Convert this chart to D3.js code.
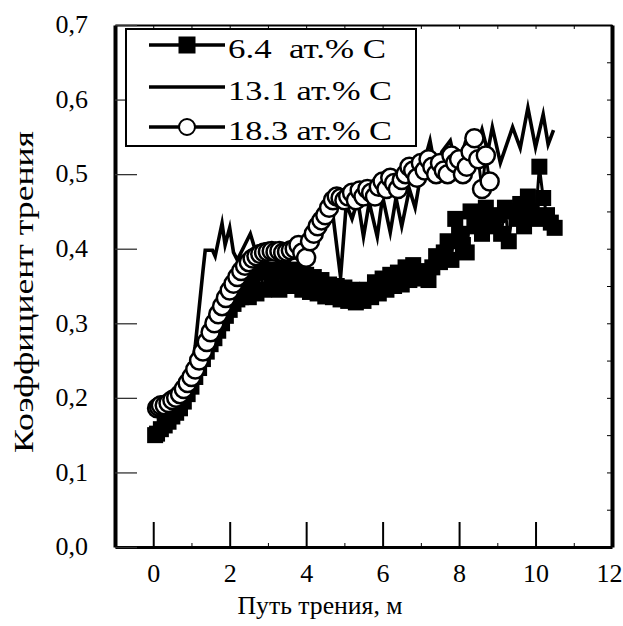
<!DOCTYPE html>
<html lang="ru">
<head>
<meta charset="UTF-8">
<title>Коэффициент трения</title>
<script src="https://cdn.jsdelivr.net/npm/d3@7"></script>
<style>
    body { margin: 0; background: #fff; }
</style>
</head>
<body>
<div id="chart"></div>
<script>
    // 6.4 ат.% C — squares
    var x64 = [0.05, 0.1, 0.2, 0.3, 0.4, 0.5, 0.6, 0.7, 0.8, 0.9, 1.0, 1.1, 1.2, 1.3, 1.4, 1.5, 1.6, 1.7, 1.8, 1.9,
        2.0, 2.1, 2.2, 2.3, 2.4, 2.5, 2.6, 2.7, 2.8, 2.9, 3.0, 3.1, 3.2, 3.3, 3.4, 3.5, 3.6, 3.7, 3.8, 3.9,
        4.0, 4.1, 4.2, 4.3, 4.4, 4.5, 4.6, 4.7, 4.8, 4.9, 5.0, 5.1, 5.2, 5.3, 5.4, 5.5, 5.6, 5.7, 5.8, 5.9,
        6.0, 6.1, 6.2, 6.3, 6.4, 6.5, 6.6, 6.7, 6.8, 6.9, 7.0, 7.1, 7.2, 7.3, 7.4, 7.5, 7.6, 7.7, 7.8, 7.9,
        8.0, 8.1, 8.2, 8.3, 8.4, 8.5, 8.6, 8.7, 8.8, 8.9, 9.0, 9.1, 9.2, 9.3, 9.4, 9.5, 9.6, 9.7, 9.8, 9.9,
        10.0, 10.1, 10.2, 10.3, 10.4, 10.5];
    var y64 = [0.150, 0.152, 0.158, 0.163, 0.168, 0.175, 0.180, 0.186, 0.195, 0.205, 0.215, 0.228, 0.240, 0.252, 0.262, 0.272, 0.280, 0.290, 0.300, 0.310,
        0.318, 0.326, 0.332, 0.335, 0.345, 0.335, 0.360, 0.340, 0.368, 0.345, 0.372, 0.350, 0.370, 0.345, 0.375, 0.352, 0.368, 0.350, 0.372, 0.345,
        0.365, 0.342, 0.362, 0.340, 0.358, 0.336, 0.352, 0.335, 0.350, 0.332, 0.348, 0.330, 0.345, 0.328, 0.342, 0.330, 0.345, 0.335, 0.355, 0.340,
        0.360, 0.345, 0.365, 0.350, 0.368, 0.352, 0.375, 0.358, 0.378, 0.360, 0.362, 0.370, 0.358, 0.375, 0.390, 0.382, 0.395, 0.410, 0.385, 0.440,
        0.420, 0.405, 0.395, 0.450, 0.430, 0.445, 0.420, 0.455, 0.440, 0.430, 0.445, 0.420, 0.455, 0.410, 0.450, 0.440, 0.460, 0.430, 0.470, 0.450,
        0.440, 0.510, 0.468, 0.445, 0.435, 0.428];

    // 13.1 ат.% C — plain line
    var x131 = [0.1, 0.3, 0.5, 0.7, 0.9, 1.0, 1.1, 1.2, 1.3, 1.36, 1.55, 1.62, 1.8, 1.88, 2.0, 2.1, 2.2, 2.54, 2.67,
        2.9, 3.1, 3.3, 3.5, 3.7, 3.9, 4.1, 4.3, 4.5, 4.7, 4.9, 5.05, 5.2, 5.35, 5.5, 5.65, 5.86, 6.0, 6.2, 6.35, 6.5,
        6.7, 6.85, 7.0, 7.24, 7.4, 7.55, 7.77, 7.95, 8.15, 8.35, 8.6, 8.75, 8.87, 9.08, 9.4, 9.6, 9.8, 10.0, 10.2, 10.33, 10.47];
    var y131 = [0.180, 0.190, 0.200, 0.210, 0.230, 0.240, 0.270, 0.320, 0.370, 0.398, 0.398, 0.390, 0.434, 0.405, 0.428, 0.395, 0.385, 0.420, 0.398,
        0.395, 0.398, 0.392, 0.396, 0.394, 0.400, 0.405, 0.415, 0.430, 0.445, 0.362, 0.460, 0.440, 0.465, 0.416, 0.462, 0.416, 0.470, 0.422, 0.468, 0.430,
        0.480, 0.455, 0.500, 0.545, 0.500, 0.530, 0.545, 0.505, 0.540, 0.520, 0.560, 0.530, 0.563, 0.515, 0.563, 0.535, 0.589, 0.536, 0.580, 0.540, 0.559];

    // 18.3 ат.% C — open circles
    var x183 = [0.1, 0.15, 0.2, 0.3, 0.4, 0.5, 0.6, 0.7, 0.8, 0.9, 1.0, 1.1, 1.2, 1.3, 1.4, 1.5, 1.6, 1.7, 1.8, 1.9,
        2.0, 2.1, 2.2, 2.3, 2.4, 2.5, 2.6, 2.7, 2.8, 2.9, 3.0, 3.1, 3.2, 3.3, 3.4, 3.5, 3.6, 3.7, 3.8, 3.9,
        4.0, 4.1, 4.2, 4.3, 4.4, 4.5, 4.6, 4.7, 4.8, 4.9, 5.0, 5.1, 5.2, 5.3, 5.4, 5.5, 5.6, 5.7, 5.8, 5.9,
        6.0, 6.1, 6.2, 6.3, 6.4, 6.5, 6.6, 6.7, 6.8, 6.9, 7.0, 7.1, 7.2, 7.3, 7.4, 7.5, 7.6, 7.7, 7.8, 7.9,
        8.0, 8.1, 8.2, 8.3, 8.4, 8.5, 8.6, 8.7, 8.8];
    var y183 = [0.186, 0.188, 0.190, 0.190, 0.193, 0.197, 0.200, 0.205, 0.212, 0.220, 0.228, 0.238, 0.250, 0.262, 0.275, 0.288, 0.300, 0.312, 0.323, 0.334,
        0.344, 0.353, 0.362, 0.370, 0.377, 0.382, 0.387, 0.390, 0.393, 0.395, 0.396, 0.397, 0.396, 0.397, 0.395, 0.396, 0.398, 0.400, 0.405, 0.395,
        0.388, 0.410, 0.420, 0.430, 0.438, 0.445, 0.455, 0.465, 0.470, 0.468, 0.465, 0.470, 0.475, 0.465, 0.478, 0.470, 0.480, 0.475, 0.470, 0.483,
        0.490, 0.480, 0.495, 0.488, 0.480, 0.492, 0.500, 0.510, 0.505, 0.495, 0.515, 0.505, 0.520, 0.510, 0.500, 0.515, 0.505, 0.500, 0.525, 0.515,
        0.520, 0.500, 0.510, 0.530, 0.548, 0.520, 0.480, 0.525, 0.490];

    var xTicks = [0, 2, 4, 6, 8, 10, 12];
    var xMinor = [-1, 1, 3, 5, 7, 9, 11];
    var yTicks = [0, 0.1, 0.2, 0.3, 0.4, 0.5, 0.6, 0.7];
    var legendLabels = ["6.4  ат.% C", "13.1 ат.% C", "18.3 ат.% C"];

    var FONT = "'Liberation Serif', 'Times New Roman', 'DejaVu Serif', serif";

    var W = 623, H = 626;
    var svg = d3.select("#chart").append("svg")
        .attr("width", W)
        .attr("height", H);

    var x = d3.scaleLinear().domain([-1, 12]).range([115, 612]);
    var y = d3.scaleLinear().domain([0, 0.7]).range([547, 25]);

    var s64 = x64.map(function (d, i) { return [d, y64[i]]; });
    var s131 = x131.map(function (d, i) { return [d, y131[i]]; });
    var s183 = x183.map(function (d, i) { return [d, y183[i]]; });

    var line = d3.line()
        .x(function (d) { return x(d[0]); })
        .y(function (d) { return y(d[1]); });

    // frame: top and right
    var topAx = svg.append("g").attr("transform", "translate(0," + y(0.7) + ")")
        .call(d3.axisBottom(x).tickValues(d3.range(-1, 13)).tickSize(4).tickSizeOuter(0).tickFormat(""));
    topAx.select(".domain").attr("stroke-width", 2);

    var rightAx = svg.append("g").attr("transform", "translate(" + x(12) + ",0)")
        .call(d3.axisLeft(y).tickValues(d3.range(0, 15).map(function (i) { return i * 0.05; })).tickSize(5).tickSizeOuter(0).tickFormat(""));
    rightAx.select(".domain").attr("stroke-width", 4);

    // series 6.4
    svg.append("path")
        .datum(s64)
        .attr("d", line)
        .attr("fill", "none")
        .attr("stroke", "#000")
        .attr("stroke-width", 3);
    svg.append("g").selectAll("rect")
        .data(s64)
        .enter().append("rect")
        .attr("x", function (d) { return x(d[0]) - 8; })
        .attr("y", function (d) { return y(d[1]) - 8; })
        .attr("width", 16)
        .attr("height", 16)
        .attr("fill", "#000");

    // series 13.1
    svg.append("path")
        .datum(s131)
        .attr("d", line)
        .attr("fill", "none")
        .attr("stroke", "#000")
        .attr("stroke-width", 3.6)
        .attr("stroke-linejoin", "miter")
        .attr("stroke-miterlimit", 10);

    // series 18.3
    svg.append("path")
        .datum(s183)
        .attr("d", line)
        .attr("fill", "none")
        .attr("stroke", "#000")
        .attr("stroke-width", 3);
    svg.append("g").selectAll("circle")
        .data(s183)
        .enter().append("circle")
        .attr("cx", function (d) { return x(d[0]); })
        .attr("cy", function (d) { return y(d[1]); })
        .attr("r", 9)
        .attr("fill", "#fff")
        .attr("stroke", "#000")
        .attr("stroke-width", 2.5);

    // bottom axis
    var bottomAx = svg.append("g").attr("transform", "translate(0," + y(0) + ")")
        .call(d3.axisBottom(x).tickValues(xTicks).tickSize(-25).tickSizeOuter(0).tickPadding(17));
    bottomAx.select(".domain").attr("stroke-width", 3);
    bottomAx.selectAll(".tick line").attr("stroke-width", 2);
    bottomAx.selectAll("text")
        .style("font-family", FONT)
        .style("font-size", "26px")
        .attr("dx", function (d) { return d == 12 ? "-3" : null; });
    svg.append("g").attr("transform", "translate(0," + y(0) + ")")
        .call(d3.axisBottom(x).tickValues(xMinor).tickSize(-4).tickSizeOuter(0).tickFormat(""))
        .select(".domain").remove();

    // left axis
    var leftAx = svg.append("g").attr("transform", "translate(" + x(-1) + ",0)")
        .call(d3.axisLeft(y).tickValues(yTicks).tickSize(-22).tickSizeOuter(0).tickPadding(27)
            .tickFormat(function (d) { return d3.format(".1f")(d).replace(".", ","); }));
    leftAx.select(".domain").attr("stroke-width", 4);
    leftAx.selectAll(".tick line").attr("stroke", "#333").attr("stroke-width", 1.3);
    leftAx.selectAll("text")
        .style("font-family", FONT)
        .style("font-size", "26px")
        .attr("dy", "0.3em");

    // axis titles
    svg.append("text")
        .attr("x", 320)
        .attr("y", 614)
        .attr("text-anchor", "middle")
        .attr("textLength", 165)
        .attr("lengthAdjust", "spacingAndGlyphs")
        .style("font-family", FONT)
        .style("font-size", "25px")
        .text("Путь трения, м");
    svg.append("text")
        .attr("transform", "translate(33,292) rotate(-90)")
        .attr("text-anchor", "middle")
        .attr("textLength", 322)
        .attr("lengthAdjust", "spacingAndGlyphs")
        .style("font-family", FONT)
        .style("font-size", "27px")
        .text("Коэффициент трения");

    // legend
    var lg = svg.append("g");
    lg.append("rect")
        .attr("x", 126).attr("y", 29)
        .attr("width", 290).attr("height", 117)
        .attr("fill", "#fff")
        .attr("stroke", "#000")
        .attr("stroke-width", 2);
    var rowY = [45, 87, 127];
    var rowLen = [158, 164, 164];
    legendLabels.forEach(function (lab, i) {
        lg.append("line")
            .attr("x1", 149).attr("x2", 225)
            .attr("y1", rowY[i]).attr("y2", rowY[i])
            .attr("stroke", "#000").attr("stroke-width", 3.6);
        if (i == 0) {
            lg.append("rect")
                .attr("x", 187 - 8.5).attr("y", rowY[i] - 8.5)
                .attr("width", 17).attr("height", 17)
                .attr("fill", "#000");
        }
        if (i == 2) {
            lg.append("circle")
                .attr("cx", 187).attr("cy", rowY[i]).attr("r", 8)
                .attr("fill", "#fff").attr("stroke", "#000").attr("stroke-width", 2);
        }
        lg.append("text")
            .attr("x", 228)
            .attr("y", rowY[i] + 13)
            .attr("textLength", rowLen[i])
            .attr("lengthAdjust", "spacingAndGlyphs")
            .style("font-family", FONT)
            .style("font-size", "27px")
            .style("white-space", "pre")
            .text(lab);
    });
</script>
</body>
</html>
